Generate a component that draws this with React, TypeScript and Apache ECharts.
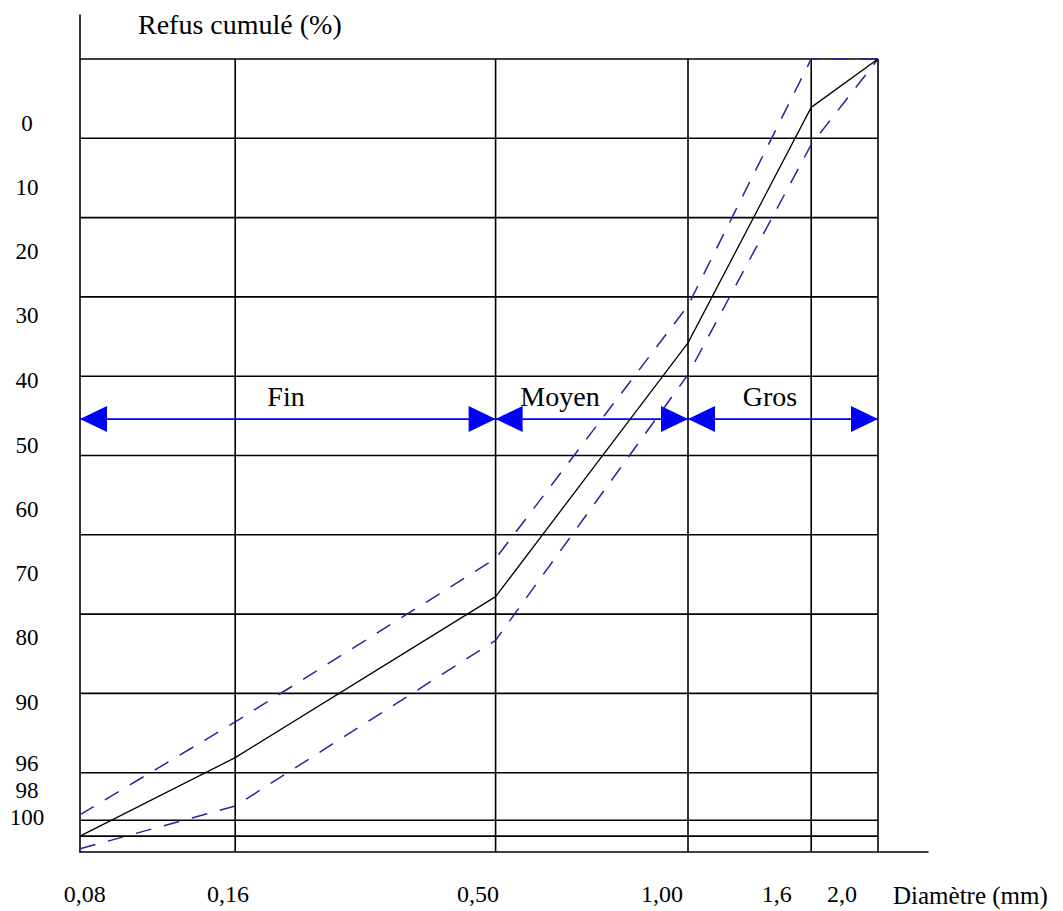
import React, { useEffect, useRef } from "react";
import * as echarts from "echarts";

// ---- data ----
// sieve openings (mm) and where each sieve line sits on the drawn x scale (scale units)
const sieveLabels = ["0,08", "0,16", "0,50", "1,00", "1,6", "2,0"];
const sievePos = [0, 19.4, 51.95, 76, 91.4, 99.75];
// where the sieve labels are printed on the x scale
const sieveLabelAt = [0.6, 18.5, 49.75, 72.75, 87.1, 95.25];

// y tick labels (Refus cumulé %) and where they are printed on the y scale
const yTickLabels = ["0", "10", "20", "30", "40", "50", "60", "70", "80", "90", "96", "98", "100"];
const yTickLabelAt = [8.1, 16.2, 24.3, 32.4, 40.5, 48.7, 56.8, 64.9, 73.0, 81.1, 88.9, 92.2, 95.7];
// horizontal grid lines (refus %)
const yGridLines = [0, 10, 20, 30, 40, 50, 60, 70, 80, 90, 96, 98];

// cumulative refusal (%) at each sieve
const refusCurve = [98, 88.1, 67.8, 35.8, 6.1, 0];
const fuseauUpper = [95.3, 83.6, 63.0, 31.1, 0, 0];
const fuseauLower = [99.6, 94.2, 73.3, 39.8, 10.8, 0];

// zones of the sand
const zoneNames = ["Fin", "Moyen", "Gros"];
const zoneFromSieve = [0, 2, 3];
const zoneToSieve = [2, 3, 5];
const zoneLabelAt = [25.75, 60, 86.25];
const zoneArrowLevel = 45.4;
const zoneLabelLevel = 42.6;

const Y_MIN = -5.55;
const X_MAX = 106;
const SERIF = '"Liberation Serif", "Times New Roman", serif';

function nearestLabel(v: number, at: number[], labels: string[]) {
  let best = 0;
  let bd = Infinity;
  at.forEach((a, i) => {
    const d = Math.abs(a - v);
    if (d < bd) {
      bd = d;
      best = i;
    }
  });
  return labels[best];
}

export default function App() {
  const ref = useRef<HTMLDivElement>(null);

  useEffect(() => {
    if (!ref.current) return;
    const chart = echarts.init(ref.current, undefined, { renderer: "svg" });

    const frameSegments = [
      ...yGridLines.map((v) => [0, v, sievePos[sievePos.length - 1], v]),
      ...sievePos.slice(1).map((x) => [x, 0, x, 100]),
    ];

    const zoneData = zoneNames.map((_, i) => [
      sievePos[zoneFromSieve[i]],
      sievePos[zoneToSieve[i]],
      zoneArrowLevel,
      zoneLabelAt[i],
      zoneLabelLevel,
    ]);

    const curve = (vals: number[]) => vals.map((v, i) => [sievePos[i], v]);

    const option: any = {
      animation: false,
      backgroundColor: "#ffffff",
      title: [
        {
          text: "Refus cumulé (%)",
          left: 138,
          top: 10,
          padding: 0,
          textStyle: { fontFamily: SERIF, fontSize: 28, fontWeight: "normal", color: "#000" },
        },
        {
          text: "Diamètre (mm)",
          left: 893,
          top: 883,
          padding: 0,
          textStyle: { fontFamily: SERIF, fontSize: 25, fontWeight: "normal", color: "#000" },
        },
      ],
      grid: { left: 80, right: 135, top: 15, bottom: 59, containLabel: false },
      xAxis: {
        type: "value",
        position: "bottom",
        min: 0,
        max: X_MAX,
        axisLine: { show: true, onZero: false, lineStyle: { color: "#000", width: 1.6 } },
        axisTick: { show: false },
        splitLine: { show: false },
        axisLabel: {
          customValues: sieveLabelAt,
          formatter: (v: number) => nearestLabel(v, sieveLabelAt, sieveLabels),
          fontFamily: SERIF,
          fontSize: 24,
          color: "#000",
          margin: 42,
          verticalAlign: "middle",
          align: "center",
        },
      },
      yAxis: {
        type: "value",
        inverse: true,
        min: Y_MIN,
        max: 100,
        axisLine: { show: true, onZero: false, lineStyle: { color: "#000", width: 1.6 } },
        axisTick: { show: false },
        splitLine: { show: false },
        axisLabel: {
          customValues: yTickLabelAt,
          formatter: (v: number) => nearestLabel(v, yTickLabelAt, yTickLabels),
          fontFamily: SERIF,
          fontSize: 23,
          color: "#000",
          margin: 53,
          align: "center",
          verticalAlign: "middle",
        },
      },
      series: [
        {
          type: "custom",
          name: "frame",
          silent: true,
          clip: false,
          encode: { x: [0, 2], y: [1, 3] },
          data: frameSegments,
          renderItem: (_p: any, api: any) => {
            const a = api.coord([api.value(0), api.value(1)]);
            const b = api.coord([api.value(2), api.value(3)]);
            return {
              type: "line",
              shape: { x1: a[0], y1: a[1], x2: b[0], y2: b[1] },
              style: { stroke: "#000", lineWidth: 1.6 },
            };
          },
          z: 1,
        },
        {
          type: "custom",
          name: "zones",
          silent: true,
          clip: false,
          encode: { x: [0, 1], y: 2 },
          data: zoneData,
          renderItem: (params: any, api: any) => {
            const p1 = api.coord([api.value(0), api.value(2)]);
            const p2 = api.coord([api.value(1), api.value(2)]);
            const t = api.coord([api.value(3), api.value(4)]);
            const L = 27;
            const H = 13;
            return {
              type: "group",
              children: [
                {
                  type: "line",
                  shape: { x1: p1[0], y1: p1[1], x2: p2[0], y2: p2[1] },
                  style: { stroke: "#0000ff", lineWidth: 1.8 },
                },
                {
                  type: "polygon",
                  shape: { points: [[p1[0], p1[1]], [p1[0] + L, p1[1] - H], [p1[0] + L, p1[1] + H]] },
                  style: { fill: "#0000ff" },
                },
                {
                  type: "polygon",
                  shape: { points: [[p2[0], p2[1]], [p2[0] - L, p2[1] - H], [p2[0] - L, p2[1] + H]] },
                  style: { fill: "#0000ff" },
                },
                {
                  type: "text",
                  x: t[0],
                  y: t[1],
                  style: {
                    text: zoneNames[params.dataIndex],
                    fill: "#000",
                    fontSize: 28,
                    fontFamily: SERIF,
                    align: "center",
                    verticalAlign: "middle",
                  },
                },
              ],
            };
          },
          z: 2,
        },
        {
          type: "line",
          name: "Fuseau sup",
          data: curve(fuseauUpper),
          symbol: "none",
          clip: false,
          lineStyle: { color: "#24249e", width: 1.5, type: [16, 13] },
          z: 3,
        },
        {
          type: "line",
          name: "Fuseau inf",
          data: curve(fuseauLower),
          symbol: "none",
          clip: false,
          lineStyle: { color: "#24249e", width: 1.5, type: [16, 13] },
          z: 3,
        },
        {
          type: "line",
          name: "Refus cumulé",
          data: curve(refusCurve),
          symbol: "none",
          clip: false,
          lineStyle: { color: "#000", width: 1.3 },
          z: 4,
        },
      ],
    };

    chart.setOption(option);
    return () => chart.dispose();
  }, []);

  return (
    <div
      ref={ref}
      style={{ position: "fixed", left: 0, top: 0, width: 1063, height: 911, background: "#fff" }}
    />
  );
}
